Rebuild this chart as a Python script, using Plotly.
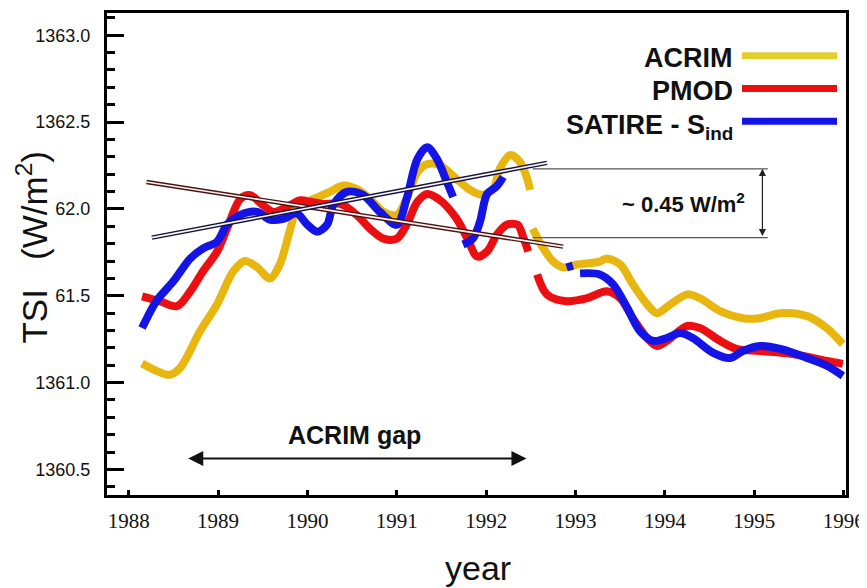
import plotly.graph_objects as go

# ---------------- data ----------------
# ACRIM composite (None = gap in the record)
acrim_year = [1988.15, 1988.46, 1988.58, 1988.80, 1988.99, 1989.17, 1989.30, 1989.44, 1989.58,
              1989.69, 1989.81, 1989.88, 1990.00, 1990.25, 1990.40, 1990.55, 1990.70, 1990.85,
              1991.00, 1991.11, 1991.23, 1991.34, 1991.48, 1991.67, 1991.82, 1991.96, 1992.08,
              1992.15, 1992.27, 1992.38, 1992.46, 1992.49, None,
              1992.52, 1992.64, 1992.75, 1992.86, 1993.02, 1993.27, 1993.35, 1993.50, 1993.64,
              1993.80, 1993.91, 1994.06, 1994.25, 1994.39, 1994.62, 1994.87, 1995.06, 1995.29,
              1995.59, 1995.81, 1995.99]
acrim_tsi = [1361.110, 1361.045, 1361.087, 1361.297, 1361.451, 1361.640, 1361.700, 1361.663, 1361.600,
             1361.680, 1361.888, 1362.002, 1362.040, 1362.098, 1362.135, 1362.115, 1362.058, 1361.983,
             1361.966, 1362.058, 1362.212, 1362.258, 1362.252, 1362.172, 1362.109, 1362.081, 1362.115,
             1362.229, 1362.310, 1362.269, 1362.172, 1362.109, None,
             1361.886, 1361.772, 1361.697, 1361.663, 1361.680, 1361.697, 1361.715, 1361.680, 1361.566,
             1361.451, 1361.400, 1361.451, 1361.508, 1361.486, 1361.411, 1361.371, 1361.371, 1361.400,
             1361.383, 1361.314, 1361.222]

# PMOD composite
pmod_year = [1988.15, 1988.35, 1988.54, 1988.69, 1988.83, 1988.99, 1989.10, 1989.25, 1989.36,
             1989.50, 1989.62, 1989.77, 1989.92, 1990.03, 1990.17, 1990.37, 1990.55, 1990.70,
             1990.85, 1991.00, 1991.11, 1991.23, 1991.34, 1991.48, 1991.67, 1991.79, 1991.90,
             1992.01, 1992.12, 1992.23, 1992.35, 1992.42, 1992.47, None,
             1992.57, 1992.68, 1992.90, 1993.13, 1993.35, 1993.50, 1993.64, 1993.80, 1993.91,
             1994.02, 1994.25, 1994.39, 1994.62, 1994.80, 1995.06, 1995.43, 1995.81, 1995.99]
pmod_tsi = [1361.497, 1361.469, 1361.440, 1361.526, 1361.640, 1361.755, 1361.886, 1362.058, 1362.079,
            1362.023, 1361.983, 1362.012, 1362.050, 1362.041, 1362.029, 1362.029, 1361.966, 1361.886,
            1361.829, 1361.829, 1361.909, 1362.041, 1362.086, 1362.052, 1361.943, 1361.829, 1361.726,
            1361.755, 1361.852, 1361.909, 1361.909, 1361.829, 1361.755, None,
            1361.623, 1361.508, 1361.469, 1361.486, 1361.526, 1361.486, 1361.371, 1361.257, 1361.211,
            1361.240, 1361.326, 1361.314, 1361.240, 1361.194, 1361.182, 1361.165, 1361.125, 1361.108]

# SATIRE-S (ind) reconstruction
satire_year = [1988.15, 1988.31, 1988.50, 1988.69, 1988.83, 1988.99, 1989.10, 1989.25, 1989.44,
               1989.58, 1989.73, 1989.88, 1990.00, 1990.11, 1990.22, 1990.29, 1990.44, 1990.62,
               1990.81, 1991.00, 1991.11, 1991.23, 1991.34, 1991.45, 1991.56, 1991.63, None,
               1991.74, 1991.85, 1991.93, 1992.01, 1992.12, 1992.19, None,
               1992.90, 1992.97, None,
               1993.05, 1993.27, 1993.42, 1993.58, 1993.72, 1993.87, 1994.02, 1994.17, 1994.31,
               1994.54, 1994.73, 1994.87, 1995.06, 1995.29, 1995.59, 1995.81, 1995.99]
satire_tsi = [1361.314, 1361.469, 1361.583, 1361.715, 1361.772, 1361.812, 1361.909, 1361.966, 1361.983,
              1361.938, 1361.943, 1361.974, 1361.909, 1361.869, 1361.909, 1362.023, 1362.098, 1362.081,
              1361.983, 1361.909, 1362.058, 1362.287, 1362.355, 1362.287, 1362.155, 1362.069, None,
              1361.795, 1361.829, 1361.926, 1362.086, 1362.132, 1362.184, None,
              1361.663, 1361.674, None,
              1361.629, 1361.623, 1361.566, 1361.428, 1361.297, 1361.240, 1361.257, 1361.285, 1361.257,
              1361.171, 1361.142, 1361.182, 1361.211, 1361.194, 1361.142, 1361.097, 1361.039]

# trend lines across the ACRIM gap
trend_pmod_year = [1988.20, 1992.86]
trend_pmod_tsi = [1362.155, 1361.783]
trend_satire_year = [1988.26, 1992.68]
trend_satire_tsi = [1361.835, 1362.265]

# bracket showing the ~0.45 W/m2 difference
bracket_year = [1992.52, 1995.15]
bracket_arrow_year = 1995.09
bracket_high = 1362.231
bracket_low = 1361.835

# ACRIM gap arrow
gap_start, gap_end, gap_level = 1988.65, 1992.45, 1360.563

year_ticks = [1988, 1989, 1990, 1991, 1992, 1993, 1994, 1995, 1996]
year_labels = ["1988", "1989", "1990", "1991", "1992", "1993", "1994", "1995", "1996"]
tsi_ticks = [1360.5, 1361.0, 1361.5, 1362.0, 1362.5, 1363.0]
tsi_labels = ["1360.5", "1361.0", "61.5", "62.0", "1362.5", "1363.0"]

series_names = ["ACRIM", "PMOD", "SATIRE - S<sub>ind</sub>"]
series_colors = ["#E8B60E", "#EC0F12", "#1414E6"]
legend_line_colors = ["#E2CF2E", "#EC0F12", "#1414E6"]

# ---------------- figure ----------------
fig = go.Figure()
series = [(acrim_year, acrim_tsi), (pmod_year, pmod_tsi), (satire_year, satire_tsi)]
for (xs, ys), name, col in zip(series, series_names, series_colors):
    fig.add_trace(go.Scatter(x=xs, y=ys, mode="lines", name=name, connectgaps=False,
                             line=dict(color=col, width=8, shape="spline", smoothing=0.9),
                             showlegend=False, hoverinfo="skip"))

for xs, ys, outer in [(trend_pmod_year, trend_pmod_tsi, "#4a1414"),
                      (trend_satire_year, trend_satire_tsi, "#14143c")]:
    fig.add_trace(go.Scatter(x=xs, y=ys, mode="lines", line=dict(color=outer, width=4.5),
                             showlegend=False, hoverinfo="skip"))
    fig.add_trace(go.Scatter(x=xs, y=ys, mode="lines", line=dict(color="#fff4f4", width=1.6),
                             showlegend=False, hoverinfo="skip"))

# bracket lines
for lvl in (bracket_high, bracket_low):
    fig.add_shape(type="line", xref="x", yref="y", x0=bracket_year[0], x1=bracket_year[1],
                  y0=lvl, y1=lvl, line=dict(color="#555555", width=1.2))

fig.add_annotation(x=bracket_arrow_year, y=bracket_high, ax=bracket_arrow_year, ay=bracket_low,
                   xref="x", yref="y", axref="x", ayref="y", text="", showarrow=True,
                   arrowhead=2, arrowside="end+start", arrowsize=1.2, arrowwidth=1.2,
                   arrowcolor="#222222", standoff=0, startstandoff=0)
fig.add_annotation(x=1994.92, y=(bracket_high + bracket_low) / 2, xref="x", yref="y",
                   xanchor="right", yanchor="middle", showarrow=False,
                   text="<b>~ 0.45 W/m<sup>2</sup></b>",
                   font=dict(family="Liberation Sans, Arial", size=22, color="#111111"))

# ACRIM gap
fig.add_annotation(x=gap_end, y=gap_level, ax=gap_start, ay=gap_level,
                   xref="x", yref="y", axref="x", ayref="y", text="", showarrow=True,
                   arrowhead=2, arrowside="end+start", arrowsize=1.5, arrowwidth=2,
                   arrowcolor="#111111", standoff=0, startstandoff=0)
fig.add_annotation(x=(gap_start + gap_end) / 2 - 0.02, y=1360.70, xref="x", yref="y",
                   xanchor="center", yanchor="middle",
                   showarrow=False, text="<b>ACRIM gap</b>",
                   font=dict(family="Liberation Sans, Arial", size=25, color="#111111"))

# legend (text left of the line sample, as in the original)
# page pixels -> paper fractions (plot area spans x 107..846, y 10..495 on the page)
def px_x(p):
    return (p - 107) / 739.0

def px_y(p):
    return (495 - p) / 485.0

legend_rows = [53, 86, 119]
text_offsets = [2, 2, 6]
for name, col, row, off in zip(series_names, legend_line_colors, legend_rows, text_offsets):
    fig.add_shape(type="line", xref="paper", yref="paper", x0=px_x(742), x1=px_x(837),
                  y0=px_y(row), y1=px_y(row), line=dict(color=col, width=7))
    fig.add_annotation(x=px_x(735), y=px_y(row + off), xref="paper", yref="paper",
                       xanchor="right", yanchor="middle", showarrow=False,
                       text="<b>" + name + "</b>",
                       font=dict(family="Liberation Sans, Arial", size=27, color="#111111"))

# axis titles
fig.add_annotation(x=px_x(32), y=px_y(246), xref="paper", yref="paper", showarrow=False,
                   xanchor="center", yanchor="middle", borderpad=0,
                   textangle=-90, text="TSI   (W/m<sup>2</sup>)",
                   font=dict(family="Liberation Sans, Arial", size=35, color="#111111"))
fig.add_annotation(x=px_x(478), y=px_y(568), xref="paper", yref="paper", showarrow=False,
                   xanchor="center", yanchor="middle",
                   text="year", font=dict(family="Liberation Sans, Arial", size=34, color="#111111"))

# the page adds an 8 px body margin, so the figure is 8 px smaller and margins compensate
fig.update_layout(
    width=859, height=580,
    margin=dict(l=99, r=21, t=2, b=93),
    plot_bgcolor="white", paper_bgcolor="white",
    showlegend=False,
)
fig.update_xaxes(range=[1987.758, 1996.025], tickvals=year_ticks, ticktext=year_labels,
                 ticks="inside", ticklen=5, tickwidth=3, tickcolor="black",
                 showline=True, linecolor="black", linewidth=3, mirror=True,
                 showgrid=False, zeroline=False, ticklabelstandoff=5,
                 tickfont=dict(family="Liberation Serif, Times New Roman", size=21, color="#111111"))
fig.update_yaxes(range=[1360.353, 1363.128], tickvals=tsi_ticks, ticktext=tsi_labels,
                 ticks="inside", ticklen=17, tickwidth=3, tickcolor="black",
                 minor=dict(ticks="inside", ticklen=8, tickwidth=2.5, tickcolor="black", dtick=0.1,
                            showgrid=False),
                 showline=True, linecolor="black", linewidth=3, mirror=True,
                 showgrid=False, zeroline=False, ticklabelstandoff=10,
                 tickfont=dict(family="Liberation Sans, Arial", size=18, color="#111111"))

fig.write_html("out.html")
